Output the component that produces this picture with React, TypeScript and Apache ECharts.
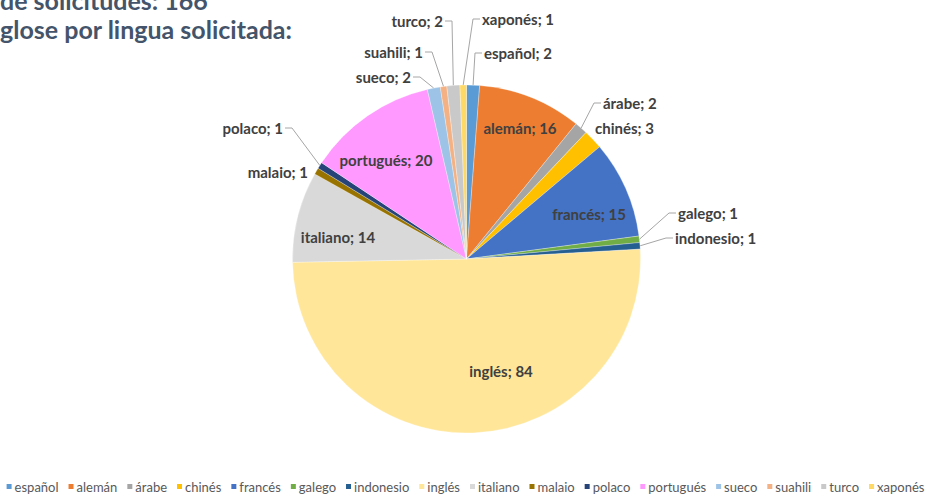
import React, { useEffect, useRef } from "react";
import * as echarts from "echarts";

const categories = [
  "español", "alemán", "árabe", "chinés", "francés", "galego", "indonesio", "inglés",
  "italiano", "malaio", "polaco", "portugués", "sueco", "suahili", "turco", "xaponés",
];
const values = [2, 16, 2, 3, 15, 1, 1, 84, 14, 1, 1, 20, 2, 1, 2, 1];
const titleLines = ["de solicitudes: 166", "glose por lingua solicitada:"];

// styles (not data)
const sliceColors = [
  "#5B9BD5", "#ED7D31", "#A5A5A5", "#FFC000", "#4472C4", "#70AD47", "#255E91", "#FFE699",
  "#D9D9D9", "#997300", "#264478", "#FF99FF", "#9DC3E6", "#F4B183", "#C9C9C9", "#FFD966",
];
// label placement: inside labels centered, outside labels anchored at text edge
type Place = { x: number; y: number; align: "left" | "right" | "center"; line?: boolean; inside?: boolean };
const labelPlace: Record<string, Place> = {
  "español": { x: 484, y: 53, align: "left", line: true },
  "alemán": { x: 520, y: 128, align: "center", inside: true },
  "árabe": { x: 603, y: 103, align: "left", line: true },
  "chinés": { x: 595, y: 128, align: "left" },
  "francés": { x: 589, y: 214, align: "center", inside: true },
  "galego": { x: 678, y: 213, align: "left", line: true },
  "indonesio": { x: 675, y: 238, align: "left", line: true },
  "inglés": { x: 501, y: 371, align: "center", inside: true },
  "italiano": { x: 338, y: 237, align: "center", inside: true },
  "malaio": { x: 308, y: 172, align: "right" },
  "polaco": { x: 283, y: 128, align: "right", line: true },
  "portugués": { x: 386, y: 160, align: "center", inside: true },
  "sueco": { x: 411, y: 77, align: "right", line: true },
  "suahili": { x: 423, y: 52, align: "right", line: true },
  "turco": { x: 443, y: 21, align: "right", line: true },
  "xaponés": { x: 482, y: 19, align: "left", line: true },
};

export default function App() {
  const ref = useRef<HTMLDivElement>(null);
  useEffect(() => {
    if (!ref.current) return;
    const chart = echarts.init(ref.current, undefined, { renderer: "svg" });
    const data = categories.map((name, i) => {
      const p = labelPlace[name];
      return {
        name,
        value: values[i],
        itemStyle: { color: sliceColors[i] },
        label: { position: p.inside ? "inside" : "outside" },
        labelLine: { show: !!p.line },
      };
    });
    chart.setOption({
      animation: false,
      backgroundColor: "#ffffff",
      graphic: [
        {
          type: "text",
          x: 0,
          y: -0.5,
          style: {
            text: titleLines[0],
            font: "bold 25px Lato",
            fill: "#44546A",
            verticalAlign: "middle",
          },
        },
        {
          type: "text",
          x: 0,
          y: 28.5,
          style: {
            text: titleLines[1],
            font: "bold 25px Lato",
            fill: "#44546A",
            verticalAlign: "middle",
          },
        },
      ],
      legend: {
        data: categories,
        top: 480,
        left: "center",
        padding: 0,
        icon: "rect",
        itemWidth: 7,
        itemHeight: 7,
        itemGap: 8,
        textStyle: { fontFamily: "Lato", fontSize: 13, color: "#595959", padding: [0, 0, 0, -3] },
      },
      series: [
        {
          type: "pie",
          center: [466.5, 259],
          radius: [0, 174],
          startAngle: 90,
          clockwise: true,
          avoidLabelOverlap: false,
          itemStyle: { borderColor: "#ffffff", borderWidth: 0.3 },
          label: {
            show: true,
            formatter: "{b}; {c}",
            fontFamily: "Lato",
            fontWeight: "bold",
            fontSize: 15,
            color: "#404040",
          },
          labelLine: {
            length: 10,
            length2: 8,
            lineStyle: { color: "#A6A6A6", width: 1 },
          },
          labelLayout: (params: any) => {
            const name = categories[params.dataIndex];
            const p = labelPlace[name];
            const out: any = { x: p.x, y: p.y, align: p.align, verticalAlign: "middle" };
            if (p.line && params.labelLinePoints) {
              const anchor = params.labelLinePoints[0];
              const dir = p.align === "left" ? -1 : 1;
              out.labelLinePoints = [
                [anchor[0], anchor[1]],
                [p.x + dir * 9, p.y],
                [p.x + dir * 2, p.y],
              ];
            }
            return out;
          },
          data,
        },
      ],
    });
    return () => chart.dispose();
  }, []);
  return (
    <div
      ref={ref}
      style={{ position: "absolute", left: 0, top: 0, width: 929, height: 495 }}
    />
  );
}
